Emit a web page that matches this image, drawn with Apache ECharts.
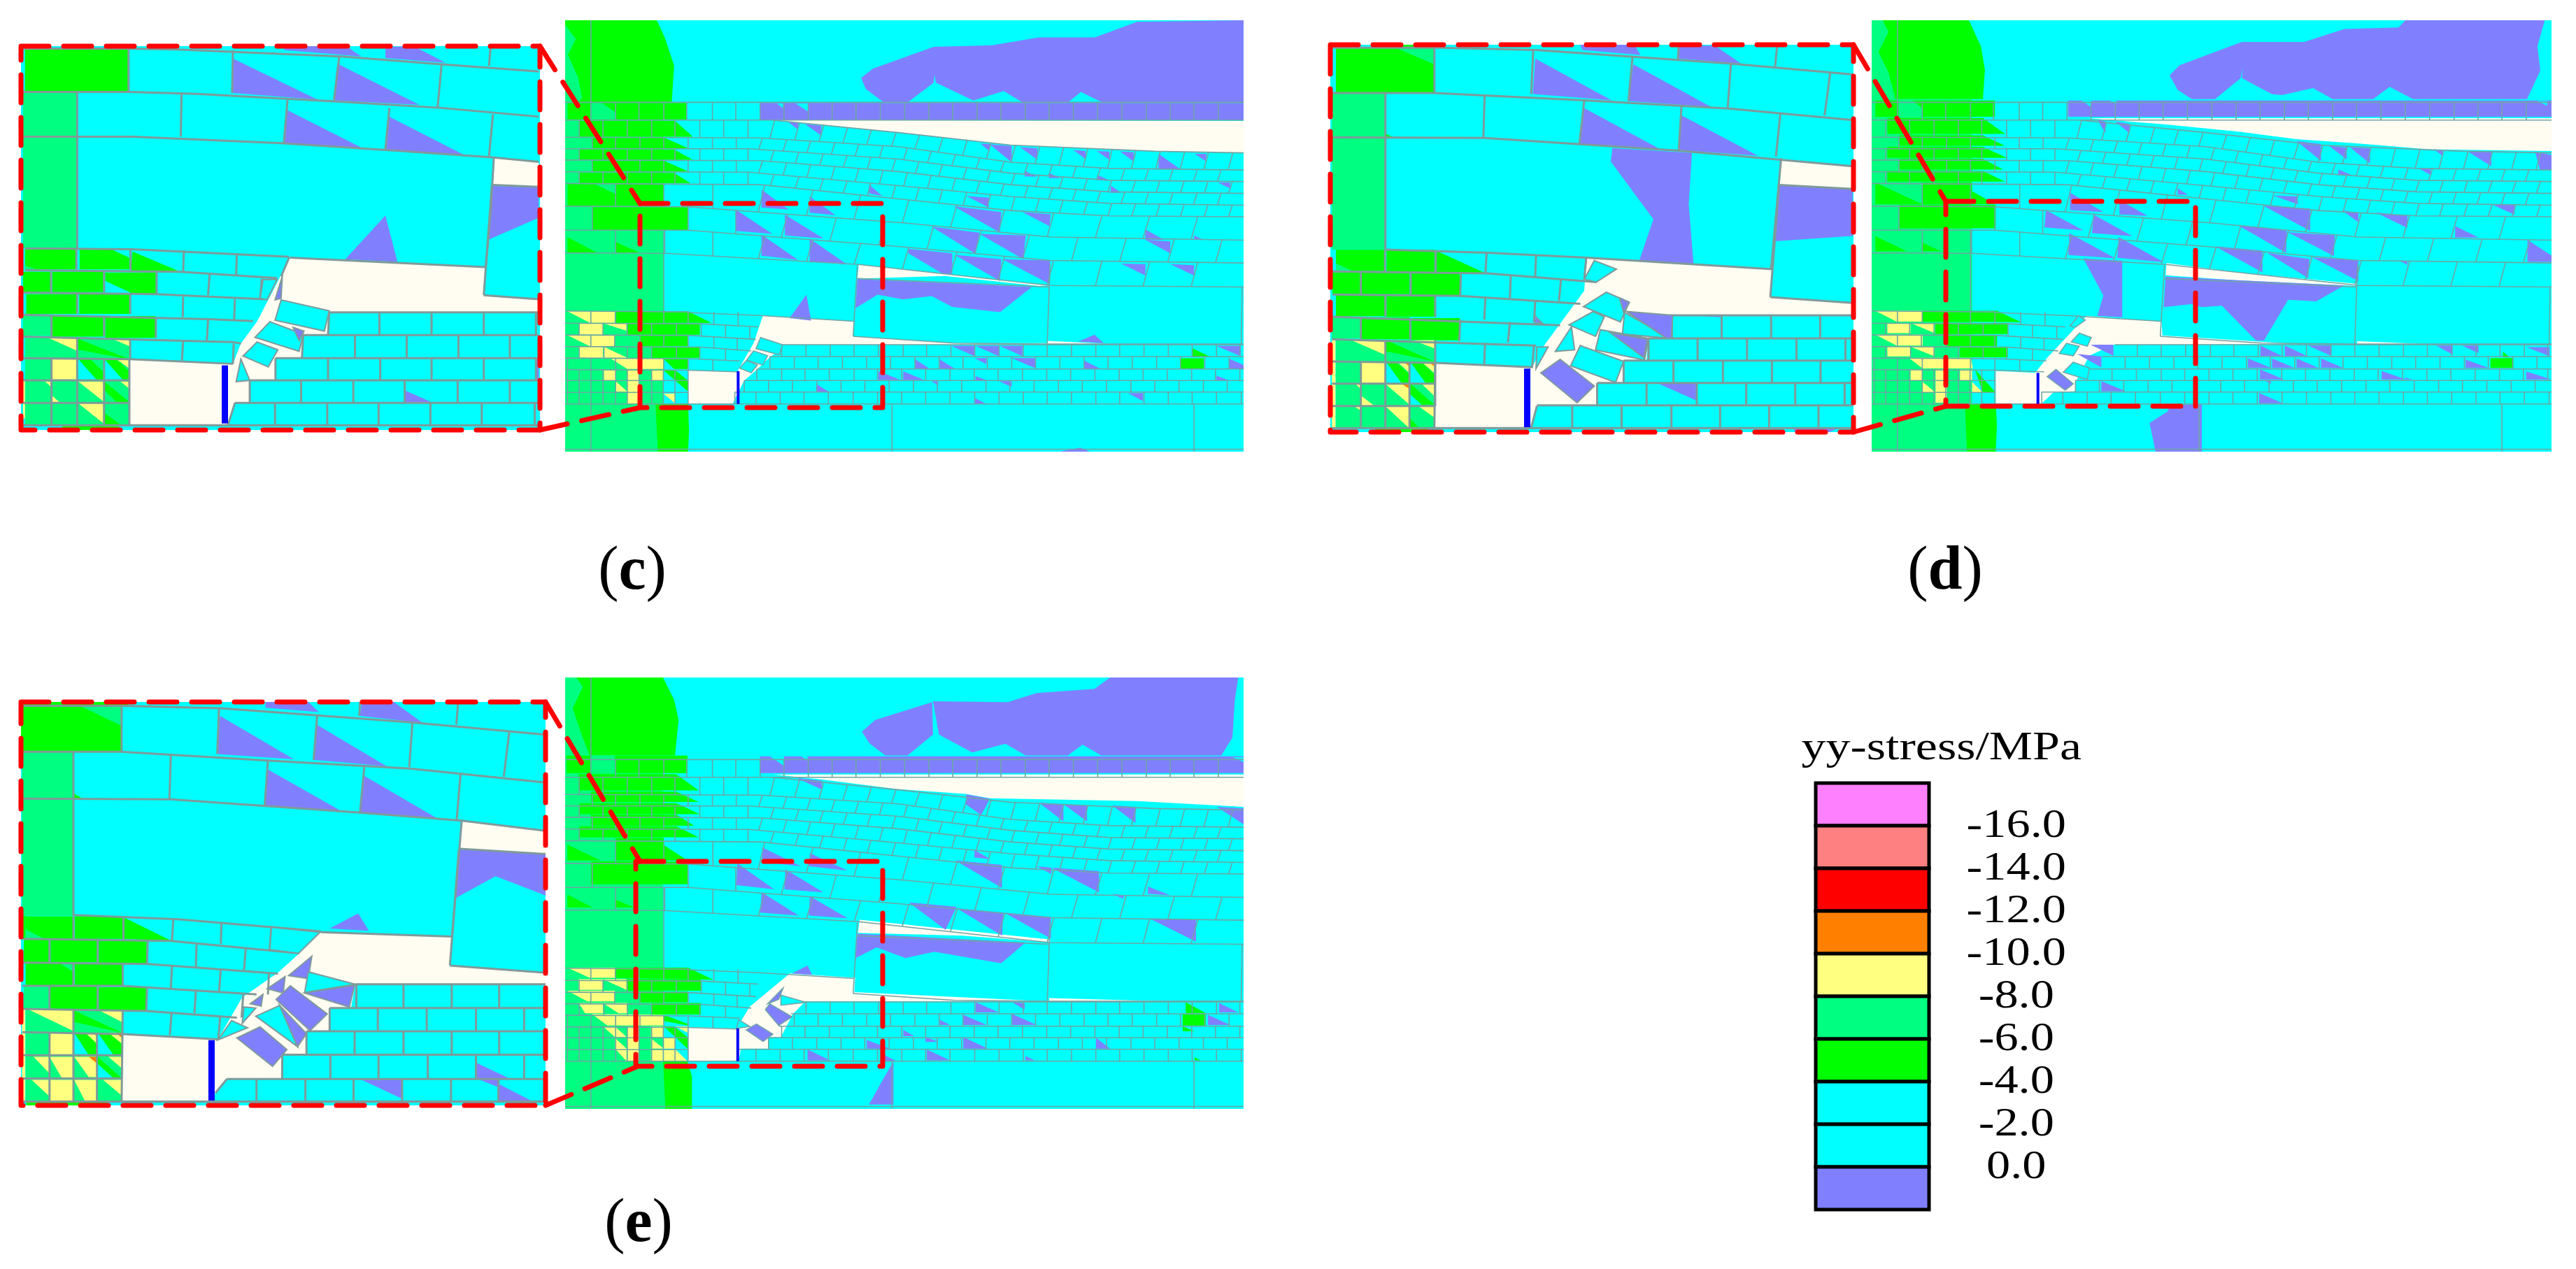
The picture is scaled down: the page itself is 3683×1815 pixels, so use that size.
<!DOCTYPE html>
<html>
<head>
<meta charset="utf-8">
<title>yy-stress</title>
<script src="https://cdn.jsdelivr.net/npm/echarts@6/dist/echarts.min.js"></script>
<style>
html, body { margin: 0; padding: 0; background: #fff; }
#chart { width: 3683px; height: 1815px; }
</style>
</head>
<body>
<div id="chart"></div>
<script>
// stress bands, top to bottom
var legendColors = ['#ff80ff', '#ff8080', '#ff0000', '#ff8000', '#ffff80', '#00ff80', '#00ff00', '#00ffff', '#00ffff', '#8080ff'];
var legendTicks = ['-16.0', '-14.0', '-12.0', '-10.0', '-8.0', '-6.0', '-4.0', '-2.0', '0.0'];
var legendTitle = 'yy-stress/MPa';
var panelLetters = ['c', 'd', 'e'];
var fieldColors = { P: '#8080ff', C: '#fffcf2', G: '#00ff00', S: '#00ff80', Y: '#ffff80', A: '#00ffff', O: '#ff8000' };

// ---- masonry of the full model, shared by the three right hand views
var courseL2 = [87,440,505,442,800,470,1040,520,1250,540,1538,545];
var courseL3 = [87,477,480,477,800,510,1040,555,1250,578,1538,582];
var courseL4 = [87,513,505,515,800,550,1040,592,1250,615,1538,620];
var courseL5 = [87,551,480,552,800,595,1040,630,1250,652,1538,658];
var courseL6 = [87,588,505,592,815,640,1040,675,1250,692,1538,695];
var courseL7 = [87,661,350,663,815,715,1125,760,1538,770];
var courseL8 = [87,738,350,738,800,790,1125,835,1538,843];
var courseL9 = [87,811,300,812,715,848,1125,915,1538,920];
var courseTop = [87,385,530,385,800,425,1040,465,1350,485,1538,490];
var fullLines = [
  [87,328,1538,328], [87,385,1538,385], [530,385,800,425,1040,465,1350,485,1538,490],
  courseL2, courseL3, courseL4, courseL5, courseL6, courseL7, courseL8, courseL9,
  [712,893,1122,920], [712,850,703,1078], [1124,846,1118,1103], [1535,920,1533,1103],
  [298,740,298,1000], [352,1002,510,1012,705,1030], [703,1078,920,1100,1118,1103], [1118,1103,1538,1103],
  [87,997,352,1000], [87,1036,378,1038,500,1048], [87,1074,350,1075,495,1088], [87,1111,378,1113,485,1125],
  [87,1148,352,1150,460,1157], [87,1185,350,1187,455,1192], [87,1220,350,1220], [87,1258,350,1258],
  [87,1295,1538,1295], [87,1440,1538,1440], [142,65,142,328], [142,1295,142,1448], [786,1295,786,1448], [1432,1295,1432,1448]
];
var setA = [117,168,220,272,322,375,426,478,530,583,635,686,737,790,840,890,942,993,1045,1097,1148,1200,1252,1303,1355,1407,1458,1510];
var setB = [145,195,247,298,350,402,453,505,557,608,660,711,763,815,866,918,970,1022,1073,1125,1176,1228,1280,1331,1383,1435,1486];
// top course, bottom course, joints, lean of the joints
var fullBands = [
  [[87,328,1538,328], [87,385,1538,385], [142,195,245,298,347,402,452,504,555,607,658,709,761,813,865,916,968,1019,1071,1122,1174,1226,1278,1330,1381,1432,1484], 0],
  [courseTop, courseL2, setA, 5],
  [courseL2, courseL3, setB, 4],
  [courseL3, courseL4, setA, 4],
  [courseL4, courseL5, setB, 4],
  [courseL5, courseL6, setA, 4],
  [courseL6, courseL7, [195,298,403,507,610,712,815,918,1020,1125,1228,1330,1433], 7],
  [courseL7, courseL8, [145,350,452,556,660,765,868,970,1073,1177,1280,1383,1485], 7],
  [courseL8, courseL9, [195,300,403,507,610,712,815,918,1020,1125,1228,1330,1433], 7],
  [[87,997,352,1000], [87,1036,378,1038,500,1048], [142,195,245,298,350,405,457], 2],
  [[87,1036,378,1038,500,1048], [87,1074,350,1075,495,1088], [117,168,220,272,325,378,430,482], 2],
  [[87,1074,350,1075,495,1088], [87,1111,378,1113,485,1125], [142,193,247,298,350,405,455], 2],
  [[87,1111,378,1113,485,1125], [87,1148,352,1150,460,1157], [117,170,220,272,325,375,430], 2],
  [[87,1148,352,1150,460,1157], [87,1185,350,1187,455,1192], [92,142,195,247,298,350,403], 0],
  [[87,1185,350,1185], [87,1220,350,1220], [92,117,142,168,195,220,245,272,297,322,350], 0],
  [[87,1220,350,1220], [87,1258,350,1258], [92,117,142,168,195,220,245,272,297,322,350], 0],
  [[87,1258,350,1258], [87,1295,350,1295], [92,117,142,168,195,220,245,272,297,322,350], 0]
];
// lower right courses: top, bottom, joints
var rightRows = [
  [1105,1143,[550,602,654,705,757,810,860,912,963,1015,1067,1118,1170,1222,1273,1325,1377,1428,1480,1530]],
  [1143,1183,[525,577,628,680,732,783,835,887,938,990,1042,1093,1145,1197,1248,1300,1352,1403,1455,1507]],
  [1183,1220,[497,550,600,652,705,755,807,858,910,962,1013,1065,1117,1168,1220,1272,1323,1375,1427,1478,1530]],
  [1220,1257,[470,522,573,625,677,728,780,832,883,935,987,1038,1090,1142,1193,1245,1297,1348,1400,1452,1503]],
  [1257,1295,[450,495,547,598,650,703,755,807,858,910,963,1015,1067,1118,1170,1222,1273,1325,1377,1428,1480,1533]]
];
var cRowStart = [550, 525, 497, 470, 450];
var dRowStart = [606, 578, 551, 521, 449];
var eRowStart = [597, 570, 544, 518, 454];

// ---- panel c, full model, read in the shared frame
var cFullShapes = [
  ['G',87,65,283,65,300,120,320,210,315,328,87,328],
  ['S',87,80,110,125,93,175,115,250,123,315,115,328,87,328],
  ['S',87,328,298,328,298,1295,87,1295], ['S',87,1295,280,1295,285,1448,87,1448],
  ['G',280,1295,350,1295,352,1380,350,1448,285,1448],
  ['G',92,330,347,330,347,383,92,383], ['S',142,330,165,330,195,360,195,383,142,383],
  ['G',117,387,322,387,360,438,117,438], ['G',145,442,300,442,350,475,145,475], ['G',117,479,320,479,360,512,117,512],
  ['G',145,516,300,516,350,550,145,550], ['G',117,554,320,554,355,587,117,587],
  ['G',92,590,298,590,298,660,92,660], ['S',150,590,195,590,195,622], ['G',145,664,350,664,350,737,145,737],
  ['G',92,760,155,810,92,810], ['G',195,775,245,810,195,810],
  ['G',195,998,350,998,400,1035,195,1035], ['Y',92,998,193,998,193,1035,140,1035], ['Y',117,1037,168,1037,168,1073,117,1073],
  ['Y',170,1037,218,1037,218,1060], ['G',220,1037,375,1037,375,1073,220,1073], ['Y',92,1075,193,1075,193,1110,140,1110],
  ['G',247,1075,350,1075,350,1110,247,1110], ['Y',117,1112,168,1112,168,1147,117,1147], ['Y',170,1112,220,1147,170,1147],
  ['G',272,1112,375,1112,375,1147,272,1147], ['Y',185,1150,297,1150,297,1183,220,1183], ['G',297,1150,350,1150,350,1183,320,1183],
  ['Y',170,1187,195,1187,195,1220,170,1220], ['Y',220,1187,245,1187,245,1295,220,1295], ['Y',272,1187,297,1187,297,1220,272,1220],
  ['Y',195,1222,220,1255,195,1255], ['Y',297,1262,322,1262,322,1293], ['G',297,1187,322,1187,350,1220,350,1255], ['A',322,1187,350,1187,350,1205],
  ['P',720,250,745,220,875,150,1000,145,1100,120,1220,120,1310,70,1538,65,1538,328,1235,328,1190,295,1163,328,1065,328,1025,292,960,322,880,265,877,240,875,265,820,328,768,328,730,285],
  ['P',504,330,1538,330,1538,385,504,385], ['A',540,332,553,332,553,347], ['A',580,332,606,332,606,357],
  ['C',530,385,1538,388,1538,490,1350,485,1040,465,800,425],
  ['C',715,848,1125,915,1100,917,900,885,712,893],
  ['C',510,1012,705,1030,703,1078,920,1100,1118,1100,1118,1093,1283,1105,550,1105,548,1120,525,1145,497,1185,470,1220,445,1295,350,1295,350,1187,455,1192,490,1100],
  ['P',565,392,585,392,585,415], ['P',600,398,635,403,635,435], ['P',975,460,995,462,995,485], ['P',995,463,1042,468,1042,520],
  ['P',1060,472,1097,475,1097,512], ['P',1174,481,1200,484,1200,510], ['P',1224,484,1251,486,1251,512], ['P',1274,486,1303,488,1303,518],
  ['P',1356,493,1356,543,1403,543], ['P',1433,493,1458,493,1458,517], ['P',1070,548,1097,566,1070,566], ['P',1122,555,1147,571,1122,571],
  ['P',1226,562,1251,578,1226,578], ['P',1254,595,1276,618,1254,618], ['P',1483,585,1509,585,1509,604], ['P',945,628,993,634,993,665],
  ['P',737,592,765,628,737,620], ['P',507,608,507,665,565,672], ['P',610,630,610,682,665,690],
  ['P',918,661,1020,680,1017,746], ['P',1065,680,1125,687,1123,725], ['P',1328,736,1368,769,1328,769], ['P',1432,755,1453,769,1432,769],
  ['P',452,672,452,740,530,750], ['P',557,688,557,755,640,765], ['P',871,727,973,746,965,814], ['P',973,750,1072,755,1067,831], ['P',1328,769,1381,774,1381,812],
  ['P',507,752,507,820,585,833], ['P',610,765,610,838,690,848], ['P',821,798,915,812,915,878,895,878,821,812], ['P',920,817,1020,831,1017,901],
  ['P',1022,831,1124,835,1124,911], ['P',1276,845,1328,847,1328,883], ['P',1381,847,1432,850,1432,883],
  ['P',712,895,1085,920,1017,1001,915,984,871,949,810,960,755,945,708,988], ['P',567,1020,603,945,613,1028], ['P',1184,1095,1219,1073,1239,1100],
  ['P',913,1109,963,1109,963,1142], ['P',965,1109,1015,1109,1015,1142], ['P',1017,1109,1065,1109,1065,1142], ['P',1480,1109,1532,1109,1532,1142],
  ['G',1429,1117,1468,1145,1429,1145], ['G',1403,1149,1453,1149,1453,1182,1403,1182],
  ['P',836,1152,866,1182,836,1182], ['P',888,1152,920,1182,888,1182], ['P',963,1148,988,1148,988,1168], ['P',1042,1148,1092,1148,1092,1180],
  ['P',1197,1156,1231,1182,1197,1182], ['P',1507,1150,1538,1170,1538,1182,1507,1182],
  ['P',757,1190,805,1218,757,1218], ['P',810,1190,855,1218,810,1218], ['P',965,1206,990,1220,965,1220], ['P',1480,1204,1507,1220,1480,1220],
  ['P',625,1232,650,1255,625,1255], ['P',871,1222,885,1222,885,1235], ['P',1015,1222,1042,1222,1042,1240],
  ['P',963,1276,988,1295,963,1295], ['P',1291,1260,1323,1260,1323,1286], ['P',1144,1448,1189,1435,1209,1448]
];
var cFullPieces = [
  ['A',505,1082,552,1105,545,1137,495,1118], ['A',490,1125,520,1140,510,1170,475,1155], ['A',475,1155,498,1170,485,1195,460,1180]
];
var cFullBlue = [457,1190,457,1295];

// ---- panel d, full model, read in its own frame
var dFullShapes = [
  ['G',63,70,305,70,335,160,345,240,340,342,63,342], ['S',90,70,105,110,80,180,105,250,122,342,63,342,63,70],
  ['S',63,342,313,342,313,1395,63,1395], ['S',63,1395,295,1395,300,1559,63,1559], ['G',295,1395,372,1395,375,1470,372,1559,300,1559],
  ['G',72,347,370,347,370,403,72,403], ['S',130,347,165,347,190,375,190,403,130,403],
  ['G',102,407,340,407,395,462,102,462], ['G',132,467,340,467,395,503,132,503], ['G',102,507,340,507,400,545,102,545],
  ['G',132,548,340,548,390,585,132,585], ['G',102,590,340,590,395,627,102,627],
  ['G',72,630,313,630,313,705,72,705], ['S',72,630,190,630,190,705], ['G',313,660,372,705,313,705], ['G',132,708,372,708,372,788,132,788],
  ['G',72,815,150,867,72,867], ['G',190,838,235,867,190,867],
  ['Y',72,1073,190,1073,190,1110,125,1110], ['G',190,1073,375,1073,435,1112,190,1110],
  ['Y',102,1115,160,1115,160,1150,102,1150], ['Y',160,1115,220,1115,220,1150], ['G',222,1115,402,1115,402,1153,222,1153],
  ['Y',72,1155,190,1155,190,1193,125,1193], ['G',250,1157,375,1157,375,1195,250,1195],
  ['Y',102,1197,160,1197,160,1230,102,1230], ['Y',160,1197,220,1197,220,1230], ['G',283,1197,402,1197,402,1233,283,1233],
  ['Y',155,1235,310,1235,315,1272,190,1272], ['Y',160,1275,190,1275,190,1315,160,1315], ['Y',222,1275,250,1275,250,1390,222,1390],
  ['Y',283,1275,313,1275,313,1315,283,1315], ['Y',190,1318,222,1355,190,1355], ['Y',313,1318,340,1355,313,1355],
  ['G',320,1275,372,1355,340,1355], ['A',340,1275,372,1275,372,1300],
  ['P',805,260,830,225,985,145,1140,145,1240,100,1375,95,1392,70,1739,70,1721,160,1728,244,1695,342,1411,342,1353,300,1312,342,1211,342,1162,304,1085,328,1060,325,985,270,987,235,982,270,918,342,860,342,825,310],
  ['P',552,347,1756,347,1756,403,552,403], ['A',585,347,610,347,610,370], ['A',655,347,672,347,672,360], ['A',1720,349,1745,349,1745,365],
  ['C',600,408,1756,408,1756,521,1450,515,1270,495,1120,480,980,455,800,430],
  ['C',797,908,975,940,1272,980,1272,987,975,968,795,950],
  ['C',598,1090,785,1110,787,1158,1130,1188,665,1190,605,1228,572,1315,570,1350,515,1355,485,1395,372,1392,372,1280,470,1287,500,1235],
  ['C',1272,1178,1452,1188,1272,1188],
  ['P',625,412,645,420,645,460], ['P',670,420,705,428,705,460], ['P',1121,487,1182,497,1182,555], ['P',1202,503,1246,510,1246,550], ['P',1254,508,1304,512,1304,565],
  ['P',1463,515,1485,518,1485,538], ['P',1548,523,1606,523,1606,574], ['P',1715,523,1756,535,1756,584,1727,584], ['P',1423,579,1455,584,1455,604],
  ['P',1063,675,1124,678,1124,705], ['P',1608,706,1664,706,1664,741], ['P',825,650,850,672,825,672], ['P',1225,585,1260,605,1225,605],
  ['P',557,665,557,725,640,732], ['P',680,690,680,740,750,745], ['P',1039,711,1155,720,1155,797], ['P',1234,726,1275,735,1275,767], ['P',1318,733,1397,745,1397,787], ['P',1516,780,1574,820,1516,820],
  ['P',497,725,493,785,590,795], ['P',615,740,612,805,712,815], ['P',975,777,1097,797,1095,873], ['P',1100,802,1216,812,1214,884], ['P',1696,828,1756,882,1756,904,1696,904],
  ['P',555,805,553,880,670,892], ['P',678,818,675,890,790,905], ['P',918,850,1036,865,1036,940], ['P',1048,873,1153,894,1150,960], ['P',1161,889,1275,899,1275,970], ['P',1376,899,1397,901,1397,914],
  ['P',590,892,687,900,687,1095,625,1090,640,1020],
  ['P',795,955,1240,985,1170,1040,1100,1035,1040,1175,1020,1175,935,1055,885,1060,860,1050,790,1060],
  ['P',885,1397,885,1559,770,1559,755,1460,800,1420,805,1397],
  ['P',1031,1193,1085,1229,1031,1229], ['P',1092,1193,1147,1229,1092,1229], ['P',1150,1193,1208,1193,1208,1229], ['P',1469,1193,1510,1193,1510,1224], ['P',1533,1193,1574,1193,1574,1219], ['P',1693,1198,1751,1198,1751,1229],
  ['P',1000,1237,1058,1270,1000,1270], ['P',1060,1237,1116,1270,1060,1270], ['P',1121,1237,1176,1270,1121,1270], ['P',1182,1237,1237,1270,1182,1270], ['P',1542,1241,1600,1270,1542,1270],
  ['G',1604,1236,1661,1236,1661,1270,1604,1270], ['G',1635,1214,1652,1234,1635,1234],
  ['P',1030,1275,1090,1310,1030,1310], ['P',1333,1280,1393,1310,1333,1310], ['P',1693,1282,1756,1310,1693,1310], ['P',1391,1304,1411,1310,1391,1310],
  ['P',635,1315,695,1350,635,1350], ['P',1040,1312,1057,1312,1057,1325], ['P',1028,1356,1086,1392,1028,1392],
  ['P',608,1190,665,1190,665,1228], ['P',575,1222,635,1230,635,1268]
];
var dFullPieces = [
  ['P',522,1275,565,1325,545,1347,500,1300], ['A',565,1250,605,1270,600,1310,540,1285], ['A',580,1150,610,1165,600,1195,560,1180],
  ['A',548,1185,580,1195,565,1228,530,1220], ['A',578,1090,595,1105,570,1130,557,1125]
];
var dFullBlue = [477,1287,477,1395];

// ---- panel e, full model, read in its own frame
var eFullShapes = [
  ['G',55,93,275,93,300,170,310,240,302,362,55,362], ['S',80,93,95,125,72,200,92,290,110,362,55,362,55,93],
  ['S',55,362,275,362,275,1418,55,1418], ['S',55,1418,275,1418,280,1583,55,1583], ['G',275,1418,330,1418,340,1470,340,1583,280,1583],
  ['G',58,363,330,363,330,423,58,423], ['S',113,363,167,363,167,423,113,423],
  ['G',85,427,305,427,355,483,85,483], ['G',113,487,305,487,355,523,113,523], ['G',87,527,305,527,358,565,87,565],
  ['G',113,567,305,567,345,605,113,605], ['G',87,607,305,607,355,645,87,645],
  ['G',168,648,277,648,277,725,168,725], ['G',60,670,135,725,60,725], ['G',277,672,330,725,277,725], ['G',113,728,330,728,330,807,113,807],
  ['G',60,843,117,887,60,887], ['G',167,860,210,887,167,887],
  ['Y',60,1095,167,1095,167,1130,110,1130], ['G',167,1095,332,1095,388,1137,167,1130],
  ['Y',85,1135,140,1135,140,1172,85,1172], ['Y',140,1135,193,1135,193,1172], ['G',193,1135,360,1135,360,1175,193,1175],
  ['Y',60,1175,167,1175,167,1212,105,1212], ['G',222,1177,332,1177,332,1215,222,1215],
  ['Y',85,1217,140,1217,140,1253,100,1253], ['Y',140,1217,195,1217,195,1253,175,1253], ['G',250,1217,360,1217,360,1257,250,1257],
  ['Y',115,1255,275,1258,277,1295,150,1295], ['Y',140,1298,167,1298,193,1335,167,1335], ['Y',195,1298,220,1298,220,1418,195,1418],
  ['Y',248,1298,277,1298,277,1335,248,1335], ['Y',277,1338,303,1338,303,1375,277,1375], ['Y',248,1340,277,1375,248,1375], ['Y',248,1378,275,1378,275,1418,248,1418],
  ['Y',167,1338,193,1375,193,1418,167,1375], ['Y',277,1378,303,1378,330,1418,277,1418], ['Y',303,1298,330,1298,330,1320],
  ['G',277,1258,332,1290,332,1295,277,1280], ['G',277,1298,330,1375,330,1335,300,1298],
  ['P',722,280,752,240,880,178,882,290,825,362,775,362,740,322],
  ['P',882,175,1050,178,1115,147,1245,132,1280,93,1568,93,1560,175,1555,300,1530,362,1260,362,1218,325,1185,362,1090,362,1045,322,970,352,895,290],
  ['P',493,365,1580,365,1580,423,493,423], ['A',515,365,547,365,547,398], ['A',585,365,600,365,600,380], ['A',1555,368,1580,368,1580,385],
  ['C',522,428,1580,428,1580,540,1340,520,1010,510,955,495,800,478,630,445],
  ['C',717,930,1145,998,1145,1008,950,985,713,975],
  ['C',560,1115,707,1130,705,1180,1140,1212,595,1212,567,1255,540,1335,512,1335,512,1375,450,1375,445,1418,332,1418,332,1300,440,1305,470,1230],
  ['C',1143,1200,1415,1212,1143,1212],
  ['P',575,440,632,450,632,480], ['P',957,497,1010,512,990,568,955,530], ['P',1120,525,1175,530,1175,590], ['P',1175,530,1228,535,1228,590], ['P',1285,535,1337,540,1337,595], ['P',1520,540,1580,545,1580,600],
  ['P',975,688,1010,720,975,715],
  ['P',498,680,498,730,585,745], ['P',605,700,603,745,690,760],
  ['P',442,735,440,810,525,825], ['P',550,755,548,825,635,835], ['P',932,725,1037,740,1037,820], ['P',1148,750,1255,762,1255,835], ['P',1365,815,1365,840,1415,845], ['P',1115,745,1148,750,1148,772],
  ['P',497,835,493,905,580,915], ['P',605,848,603,915,690,925], ['P',828,870,935,885,910,965], ['P',935,890,1040,905,1037,985], ['P',1042,905,1147,920,1147,995], ['P',1368,925,1473,930,1473,1005], ['P',1285,840,1310,845,1310,858],
  ['P',712,978,1090,1008,1035,1080,885,1040,820,1062,755,1025,708,1062], ['P',565,1115,600,1088,610,1120], ['P',793,1420,793,1568,738,1568,770,1480],
  ['G',1443,1256,1495,1256,1495,1295,1443,1295], ['G',1450,1215,1495,1252,1450,1252], ['G',1443,1298,1470,1315,1443,1315], ['G',1470,1405,1483,1415,1470,1415],
  ['P',978,1215,1030,1250,978,1250], ['P',1060,1215,1088,1218,1088,1240], ['P',1525,1217,1568,1250,1525,1250],
  ['P',897,1275,920,1293,897,1293], ['P',950,1258,1003,1293,950,1293], ['P',1060,1255,1115,1293,1060,1293], ['P',1500,1258,1550,1293,1500,1293],
  ['P',815,1310,840,1332,815,1332], ['P',733,1345,785,1375,733,1375], ['P',865,1335,895,1352,865,1352], ['P',950,1335,1005,1375,950,1375], ['P',1248,1337,1280,1375,1248,1375],
  ['P',600,1378,650,1415,600,1415], ['P',868,1378,920,1415,868,1415], ['P',1090,1400,1110,1415,1090,1415], ['P',770,1395,800,1418,770,1418]
];
var eFullPieces = [
  ['P',545,1165,535,1205,510,1220], ['A',540,1190,597,1215,540,1225], ['P',515,1220,565,1265,535,1295,505,1240],
  ['P',485,1290,522,1325,500,1350,462,1310], ['A',445,1275,470,1298,440,1305]
];
var eFullBlue = [443,1305,443,1418];

// ---- panel c, close up
var cDetailShapes = [
  ['G',62,157,320,157,320,292,62,292], ['S',57,295,192,295,192,795,57,795],
  ['P',582,188,790,318,578,297], ['P',840,203,1045,335,830,320], ['P',705,147,862,147,900,180,710,160], ['P',960,150,1030,147,1110,200,960,185],
  ['P',712,350,905,475,705,458], ['P',968,372,1160,498,960,478], ['P',960,690,990,838,860,830],
  ['C',1232,505,1342,520,1342,598,1228,592], ['P',1225,595,1342,600,1342,697,1215,768],
  ['C',722,825,1208,855,1205,945,1342,958,1342,1000,820,1000,817,1072,755,1075,752,1147,686,1147,686,1216,622,1218,620,1288,585,1290,568,1360,322,1360,322,1152,580,1165,600,1100,640,1030,700,880],
  ['G',62,798,190,798,190,862,62,862], ['S',62,850,90,862,62,862], ['G',198,798,322,798,322,862,198,862], ['A',280,800,322,800,322,825], ['G',330,805,445,868,325,868],
  ['G',57,870,125,870,125,935,57,935], ['G',130,870,257,870,257,935,130,935], ['G',262,873,388,873,388,940,330,940,262,900], ['A',262,900,330,940,262,935],
  ['G',65,942,190,942,190,1005,65,1005], ['G',197,942,322,942,322,1005,197,1005],
  ['S',57,1010,128,1010,128,1075,57,1075], ['G',130,1012,257,1012,257,1078,130,1078], ['G',262,1012,387,1012,387,1082,262,1082],
  ['S',62,1082,322,1082,322,1360,62,1360], ['Y',120,1082,190,1082,190,1122], ['G',195,1085,322,1150,195,1120], ['Y',280,1085,322,1085,322,1108],
  ['Y',130,1150,190,1150,190,1215,130,1215], ['A',195,1150,257,1215,195,1215], ['G',195,1150,225,1150,257,1190,257,1215,240,1215],
  ['A',260,1150,322,1215,260,1215], ['G',260,1150,290,1150,322,1190,322,1215,305,1215], ['Y',290,1150,322,1150,322,1180],
  ['Y',112,1222,128,1222,128,1240], ['Y',195,1222,257,1222,257,1285], ['G',260,1222,322,1288,290,1288,260,1250], ['Y',300,1222,322,1222,322,1245],
  ['Y',195,1292,257,1292,257,1355], ['G',258,1320,300,1360,258,1360], ['Y',130,1268,148,1288,130,1288],
  ['Y',57,1220,62,1220,62,1340,57,1340], ['G',155,1362,295,1362,300,1377,155,1377],
  ['P',1008,1250,1075,1288,1008,1288], ['P',1335,1147,1342,1147,1342,1218,1335,1218]
];
var cDetailPieces = [
  ['A',700,960,820,995,808,1060,685,1025], ['A',672,1030,755,1070,745,1125,635,1080], ['A',640,1095,692,1120,668,1175,605,1140],
  ['A',600,1150,622,1218,588,1222], ['A',655,895,690,895,665,960,648,955], ['P',685,960,703,885,700,955], ['P',730,1048,757,1060,745,1090]
];
var cDetailLines = [
  [57,155,320,155,450,158,850,180,1100,205,1342,228], [57,294,320,294,490,300,850,325,1100,345,1342,373], [57,437,330,437,700,458,1000,483,1225,503,1342,518],
  [62,795,330,798,720,822], [722,825,1208,855], [1230,505,1222,680,1210,855], [1228,592,1342,598], [1225,595,1205,945], [1205,945,1342,958],
  [62,865,450,870,690,890], [57,937,390,942,660,958], [57,1008,520,1022,630,1028], [57,1078,580,1095,600,1100], [57,1147,325,1150,580,1165],
  [57,1218,322,1218], [57,1290,322,1290], [57,1362,1342,1362],
  [820,1000,1342,1000], [755,1073,1342,1073], [686,1147,1342,1147], [622,1218,1342,1218], [585,1290,1342,1290],
  [320,157,320,292], [580,160,578,297], [845,180,832,320], [1100,205,1090,343], [1222,150,1218,210],
  [192,295,192,795], [452,300,450,437], [716,320,707,458], [970,345,960,478], [1228,365,1218,500],
  [190,798,190,862], [325,798,325,865], [458,802,456,868], [590,812,588,880], [720,825,700,885],
  [127,870,127,935], [259,870,259,937], [390,873,390,942], [522,880,518,945], [652,892,648,955],
  [192,942,192,1005], [324,942,324,1005], [456,950,455,1015], [585,958,583,1025],
  [128,1010,128,1078], [259,1010,259,1078], [388,1018,388,1082], [518,1025,515,1090],
  [192,1080,192,1147], [324,1085,324,1150], [456,1092,453,1155], [582,1100,580,1165],
  [128,1150,128,1362], [192,1150,192,1362], [259,1150,259,1362], [322,1150,322,1362],
  [820,1000,817,1072], [755,1075,752,1147], [686,1147,686,1218], [622,1218,622,1288], [585,1290,568,1360]
];
var cDetailColumns = [
  [1003,1072,[945,1075,1205,1335]], [1075,1147,[884,1013,1142,1270]], [1147,1218,[817,947,1075,1205,1335]],
  [1218,1290,[750,880,1008,1140,1270]], [1290,1362,[685,815,943,1072,1200,1332]]
];
var cDetailBlue = [560,1170,560,1356];

// ---- panel d, close up
var dDetailShapes = [
  ['G',122,157,367,157,367,312,122,312], ['S',270,157,367,157,367,215], ['G',240,147,390,147,390,157,240,157],
  ['S',112,315,245,315,245,857,112,857], ['G',245,455,265,468,245,468],
  ['P',618,195,808,340,612,318], ['P',862,215,1055,362,850,342], ['P',738,365,930,510,728,490], ['P',982,392,1172,532,975,512],
  ['P',730,147,865,147,880,183,735,165], ['P',975,150,1065,150,1130,212,975,195],
  ['P',810,505,1008,522,1000,700,1012,908,877,895,912,752,806,552],
  ['C',1230,543,1408,568,1408,645,1227,632], ['P',1225,635,1408,648,1408,810,1215,828],
  ['C',745,885,1208,925,1203,1022,1408,1042,1408,1085,960,1085,955,1165,900,1165,895,1240,838,1240,838,1320,772,1322,772,1395,622,1400,605,1475,367,1475,367,1250,610,1265,640,1190,740,1000],
  ['G',122,858,244,858,244,932,122,932], ['S',122,905,165,932,122,932], ['G',248,858,367,858,367,935,248,935], ['G',373,862,495,940,373,940],
  ['G',113,937,183,937,183,1012,113,1012], ['G',186,937,305,937,305,1012,186,1012], ['G',310,940,430,940,430,1018,310,1018],
  ['G',122,1015,244,1015,244,1088,122,1088], ['G',248,1017,367,1017,367,1090,248,1090],
  ['S',112,1092,183,1092,183,1165,112,1165], ['G',186,1092,305,1092,305,1168,186,1168], ['G',310,1095,430,1095,430,1172,310,1172],
  ['S',122,1170,367,1170,367,1475,122,1475], ['Y',158,1170,244,1170,244,1222], ['G',247,1172,367,1245,247,1210], ['Y',315,1172,367,1172,367,1200],
  ['Y',112,1170,121,1170,121,1475,112,1475],
  ['Y',186,1247,244,1247,244,1320,186,1320], ['A',247,1247,305,1320,247,1320], ['G',247,1247,272,1247,305,1290,305,1320,285,1320], ['Y',275,1247,305,1247,305,1285], ['O',290,1247,305,1247,305,1262],
  ['A',307,1247,367,1320,307,1320], ['G',307,1247,335,1247,367,1290,367,1320,345,1320], ['Y',335,1247,367,1247,367,1285], ['O',352,1247,367,1247,367,1262],
  ['Y',170,1322,183,1322,183,1340], ['Y',186,1365,218,1400,186,1400], ['Y',247,1325,305,1325,305,1395], ['O',288,1325,305,1325,305,1340],
  ['G',307,1322,367,1395,335,1395,307,1360], ['A',307,1360,335,1395,307,1395], ['Y',335,1322,367,1322,367,1365],
  ['Y',247,1403,303,1403,303,1475], ['Y',330,1403,367,1403,367,1440], ['G',305,1440,328,1475,305,1475], ['Y',170,1403,183,1403,183,1415],
  ['G',220,1477,350,1477,350,1490,220,1490], ['P',1260,1477,1370,1477,1350,1490,1265,1490],
  ['P',925,1322,1018,1380,1018,1322], ['P',1000,1085,1080,1085,1080,1092]
];
var dDetailPieces = [
  ['A',765,895,820,925,770,970,740,960], ['A',795,1005,852,1040,830,1108,738,1055], ['A',762,1072,790,1090,768,1158,702,1118],
  ['A',708,1125,716,1205,668,1210], ['A',840,1075,955,1165,835,1150], ['P',845,1072,960,1085,957,1165,945,1165],
  ['A',780,1135,900,1165,890,1240,768,1205], ['P',805,1145,898,1168,888,1232], ['A',730,1190,838,1245,818,1318,706,1260],
  ['A',622,1195,650,1195,620,1270], ['P',680,1238,765,1330,722,1388,632,1285], ['P',615,1085,635,1112,617,1110], ['P',828,1025,852,1040,838,1075]
];
var dDetailLines = [
  [112,157,367,157,620,165,1100,212,1408,250], [112,314,367,314,740,340,1100,368,1408,408], [112,468,490,470,975,514,1408,568],
  [245,857,500,868,745,885], [745,885,1208,925], [1230,540,1205,925], [1225,633,1203,1022], [1225,633,1408,647], [1203,1022,1408,1042],
  [112,933,500,940,770,970], [113,1013,432,1018,730,1045], [112,1090,680,1120], [112,1168,620,1190], [112,1245,370,1250,612,1265],
  [112,1322,367,1322], [112,1400,367,1400], [112,1476,1408,1476],
  [955,1085,1408,1085], [900,1165,1408,1165], [838,1242,1408,1242], [772,1320,1408,1320], [622,1397,1408,1397], [622,1400,608,1475],
  [367,160,367,312], [613,165,608,318], [860,190,850,342], [1105,212,1097,365], [1352,245,1338,392], [1220,150,1215,222], [975,150,973,195],
  [245,315,245,857], [492,320,489,470], [740,340,728,490], [982,362,975,512], [1228,385,1217,535],
  [244,858,244,933], [370,862,370,937], [497,868,494,940], [620,878,618,950], [745,885,740,960],
  [184,937,184,1012], [308,940,308,1016], [433,943,431,1018], [557,950,555,1025], [682,962,677,1035],
  [245,1015,245,1090], [369,1018,369,1092], [494,1025,491,1100], [618,1035,615,1108],
  [184,1092,184,1168], [307,1095,307,1170], [431,1100,429,1175], [555,1108,550,1180],
  [245,1170,245,1245], [369,1172,369,1400], [493,1180,491,1255], [615,1190,610,1265],
  [184,1247,184,1476], [245,1247,245,1476], [305,1247,305,1476], [369,1250,367,1476]
];
var dDetailColumns = [
  [1085,1165,[958,1082,1205,1327]], [1165,1242,[900,1022,1145,1268,1390]], [1242,1320,[838,962,1085,1207,1328]],
  [1320,1397,[772,895,1020,1143,1265,1388]], [1397,1476,[710,833,957,1078,1200,1323]]
];
var dDetailBlue = [598,1270,598,1473];

// ---- panel e, close up
var eDetailShapes = [
  ['G',60,130,360,130,360,143,60,143], ['G',72,143,342,143,342,300,72,300], ['S',225,143,342,143,342,212], ['G',60,143,72,143,72,300,60,300],
  ['S',63,303,207,303,207,868,63,868], ['G',207,445,232,463,207,463],
  ['P',618,178,825,328,610,310], ['P',888,208,1085,352,880,330], ['P',750,362,955,505,743,488], ['P',1018,382,1228,533,1010,512],
  ['P',745,130,865,130,895,165,745,150], ['P',1015,130,1105,130,1185,202,1010,178],
  ['C',1295,542,1530,572,1530,653,1290,637], ['P',1287,640,1530,655,1530,798,1390,732,1277,808], ['P',1005,860,1035,920,925,912],
  ['C',900,925,1268,940,1262,1040,1530,1065,1530,1105,997,1105,985,1185,925,1187,922,1265,860,1265,858,1348,792,1348,792,1430,637,1432,605,1480,590,1510,342,1510,342,1277,612,1295,680,1150,780,1065,840,998],
  ['G',60,868,73,868,73,948,60,948], ['G',73,870,205,870,205,948,73,948], ['S',73,915,125,948,73,948], ['G',211,870,345,870,345,948,211,948], ['G',350,875,482,955,350,948],
  ['G',68,950,138,950,138,1028,68,1028], ['G',143,950,273,950,273,1028,143,1028], ['G',278,955,412,955,412,1033,278,1033],
  ['G',73,1030,205,1030,205,1108,73,1108], ['S',165,1030,205,1030,205,1060], ['G',211,1033,345,1033,345,1110,211,1110],
  ['S',68,1112,138,1112,138,1190,68,1190], ['G',142,1112,273,1112,273,1190,142,1190], ['G',278,1115,412,1115,412,1195,278,1195],
  ['S',73,1192,343,1192,343,1510,73,1510], ['Y',82,1192,205,1192,205,1265], ['G',209,1195,343,1272,209,1235], ['Y',280,1195,343,1195,343,1235],
  ['Y',63,1192,72,1192,72,1510,63,1510],
  ['Y',140,1272,205,1272,205,1350,140,1350], ['A',209,1272,273,1350,209,1350], ['G',209,1272,240,1272,273,1310,273,1350,250,1350], ['Y',240,1272,273,1272,273,1310], ['O',262,1272,273,1272,273,1285],
  ['A',275,1272,343,1350,275,1350], ['G',275,1272,305,1272,343,1310,343,1350,320,1350], ['Y',305,1272,343,1272,343,1310], ['O',325,1272,343,1272,343,1290],
  ['Y',95,1355,138,1355,138,1410], ['Y',140,1355,205,1355,205,1430,175,1430], ['Y',209,1355,273,1355,273,1425,250,1425], ['O',250,1355,273,1355,273,1378],
  ['G',275,1355,343,1430,320,1430,275,1380], ['A',275,1380,320,1430,275,1430], ['Y',305,1355,343,1355,343,1395],
  ['Y',90,1435,138,1435,138,1490], ['Y',140,1435,207,1435,207,1510,140,1510], ['Y',209,1435,271,1435,271,1510,240,1510], ['Y',290,1435,343,1435,343,1490],
  ['G',75,1512,300,1512,300,1523,75,1523],
  ['P',1335,1375,1432,1432,1335,1432], ['P',1400,1450,1495,1510,1400,1510], ['P',1015,1435,1128,1500,1128,1435], ['P',1340,1432,1398,1432,1398,1460]
];
var eDetailPieces = [
  ['P',875,1008,865,1085,810,1075], ['A',865,1062,997,1105,855,1133], ['P',855,1135,995,1108,980,1183], ['P',800,1078,795,1135,750,1120],
  ['P',738,1140,733,1180,703,1172], ['P',815,1110,918,1207,870,1265,775,1157], ['A',785,1178,835,1320,718,1215], ['P',785,1178,860,1275,835,1320],
  ['A',650,1230,695,1255,612,1297], ['A',685,1183,718,1187,680,1240], ['P',730,1252,805,1330,765,1388,665,1290],
  ['A',762,908,898,925,838,998,757,985]
];
var eDetailLines = [
  [63,143,342,143,620,152,1150,200,1530,243], [63,302,342,302,750,332,1150,360,1530,408], [63,464,480,466,1010,512,1295,540,1530,575],
  [207,866,500,880,900,922], [900,925,1268,940], [1295,542,1268,940], [1287,640,1262,1040], [1290,637,1530,655], [1262,1040,1530,1065],
  [63,948,480,955,840,998], [63,1030,415,1035,780,1068], [63,1110,345,1110,720,1140], [63,1190,412,1197,665,1220], [63,1270,345,1277,612,1295],
  [63,1350,343,1350], [63,1430,343,1430], [63,1510,1530,1510],
  [997,1105,1530,1105], [925,1187,1530,1187], [860,1267,1530,1267], [792,1348,1530,1348], [637,1432,1530,1432], [637,1432,605,1480],
  [342,143,342,300], [615,152,610,310], [890,178,880,330], [1157,200,1148,355], [1428,235,1413,388], [1285,130,1280,208], [1010,130,1008,178],
  [207,303,207,868], [480,310,476,466], [752,332,743,488], [1022,355,1010,512], [1292,378,1281,535],
  [207,870,207,948], [347,875,347,950], [487,880,483,955], [622,890,620,965], [762,903,757,985],
  [140,950,140,1028], [275,952,275,1030], [415,958,413,1033], [552,968,550,1045], [690,980,685,1055],
  [207,1030,207,1110], [345,1035,345,1112], [483,1042,480,1118], [620,1052,615,1130], [755,1068,752,1140],
  [140,1112,140,1190], [275,1115,275,1192], [413,1120,411,1197], [550,1130,546,1205], [683,1140,678,1220],
  [207,1192,207,1510], [345,1197,342,1510], [482,1205,477,1280], [618,1218,613,1295], [140,1272,140,1510], [273,1272,273,1510]
];
var eDetailColumns = [
  [1105,1187,[1000,1132,1267,1400]], [1187,1267,[925,1060,1197,1335,1470]], [1267,1348,[860,995,1132,1267,1400]],
  [1348,1432,[792,927,1062,1200,1335,1470]], [1432,1510,[720,857,992,1128,1265,1398]]
];
var eDetailBlue = [594,1298,594,1506];

// ---- red call outs, page coordinates
var calloutBoxes = [
  [30,66,772,66,772,615,30,615,30,66], [772,66,915,291], [772,615,915,583], [915,291,1262,291,1262,583,915,583,915,291],
  [1902,64,2650,64,2650,618,1902,618,1902,64], [2650,64,2782,288], [2650,618,2782,581], [2782,288,3139,288,3139,581,2782,581,2782,288],
  [30,1004,780,1004,780,1581,30,1581,30,1004], [780,1004,915,1232], [780,1581,912,1525], [909,1232,1262,1232,1262,1525,909,1525,909,1232]
];
var letterAnchors = [[904,819], [2781,819], [913,1752]];

var grids = [], xAxes = [], yAxes = [], series = [];

function addFrame(rect, xr, yr) {
    var i = grids.length;
    grids.push({ left: rect[0], top: rect[1], width: rect[2] - rect[0], height: rect[3] - rect[1], containLabel: false, show: false });
    xAxes.push({ type: 'value', gridIndex: i, min: xr[0], max: xr[1], show: false, scale: true });
    yAxes.push({ type: 'value', gridIndex: i, min: yr[0], max: yr[1], show: false, inverse: true, scale: true });
    return i;
}

function toPoints(api, flat, from) {
    var pts = [];
    for (var k = from; k < flat.length; k += 2) {
        pts.push(api.coord([flat[k], flat[k + 1]]));
    }
    return pts;
}

function shapeSeries(frame, list, z, stroke, lw) {
    series.push({
        type: 'custom', xAxisIndex: frame, yAxisIndex: frame, z: z, silent: true, clip: true,
        data: list.map(function (d, i) { return [i, 0]; }),
        renderItem: function (params, api) {
            var s = list[params.dataIndex];
            return {
                type: 'polygon', shape: { points: toPoints(api, s, 1) },
                style: { fill: fieldColors[s[0]], stroke: stroke || null, lineWidth: lw || 0 }
            };
        }
    });
}

function lineSeries(frame, list, z, color, lw, dash) {
    series.push({
        type: 'custom', xAxisIndex: frame, yAxisIndex: frame, z: z, silent: true, clip: !dash,
        data: list.map(function (d, i) { return [i, 0]; }),
        renderItem: function (params, api) {
            return {
                type: 'polyline', shape: { points: toPoints(api, list[params.dataIndex], 0) },
                style: { fill: null, stroke: color, lineWidth: lw, lineCap: dash ? 'round' : 'butt', lineJoin: 'round', lineDash: dash || null }
            };
        }
    });
}

function yOnCourse(line, x) {
    for (var k = 0; k < line.length - 2; k += 2) {
        if (x <= line[k + 2]) {
            return line[k + 1] + (line[k + 3] - line[k + 1]) * (x - line[k]) / (line[k + 2] - line[k]);
        }
    }
    return line[line.length - 1];
}

// joints of the model as polylines, right rows cut where the crack starts
function masonry(rowStart) {
    var out = fullLines.slice();
    fullBands.forEach(function (b) {
        b[2].forEach(function (x) {
            var lean = x > 500 ? b[3] : 0;
            out.push([x + lean, yOnCourse(b[0], x + lean), x - lean, yOnCourse(b[1], x - lean)]);
        });
    });
    rightRows.forEach(function (r, i) {
        out.push([rowStart[i], r[0], 1538, r[0]]);
        r[2].forEach(function (x) {
            if (x >= rowStart[i]) { out.push([x, r[0], x, r[1]]); }
        });
    });
    return out;
}

function columns(list) {
    var out = [];
    list.forEach(function (c) {
        c[2].forEach(function (x) { out.push([x, c[0], x, c[1]]); });
    });
    return out;
}

function fullView(rect, frameX, frameY, shapes, pieces, blue, rowStart) {
    var model = addFrame(rect, [87, 1538], [65, 1448]);
    var own = addFrame(rect, frameX, frameY);
    shapeSeries(own, [['A', frameX[0], frameY[0], frameX[1], frameY[0], frameX[1], frameY[1], frameX[0], frameY[1]]], 1);
    shapeSeries(own, shapes, 2);
    lineSeries(model, masonry(rowStart), 3, '#6fa5a5', 1.6);
    shapeSeries(own, pieces, 4, '#6fa5a5', 1.5);
    lineSeries(own, [blue], 5, '#0000ff', 4);
}

function detailView(rect, frameX, frameY, shapes, pieces, lines, cols, blue) {
    var own = addFrame(rect, frameX, frameY);
    shapeSeries(own, [['A', frameX[0], frameY[0], frameX[1], frameY[0], frameX[1], frameY[1], frameX[0], frameY[1]]], 1);
    shapeSeries(own, shapes, 2);
    lineSeries(own, lines.concat(columns(cols)), 3, '#7f9a9a', 3);
    shapeSeries(own, pieces, 4, '#7f9a9a', 2);
    lineSeries(own, [blue], 5, '#0000ff', 9);
}

detailView([30,66,772,615], [52,1345], [147,1377], cDetailShapes, cDetailPieces, cDetailLines, cDetailColumns, cDetailBlue);
detailView([1902,64,2650,618], [108,1410], [147,1490], dDetailShapes, dDetailPieces, dDetailLines, dDetailColumns, dDetailBlue);
detailView([30,1004,780,1581], [60,1530], [130,1523], eDetailShapes, eDetailPieces, eDetailLines, eDetailColumns, eDetailBlue);
fullView([808,29,1778,646], [87,1538], [65,1448], cFullShapes, cFullPieces, cFullBlue, cRowStart);
fullView([2676,29,3648,646], [63,1756], [70,1559], dFullShapes, dFullPieces, dFullBlue, dRowStart);
fullView([808,969,1778,1586], [55,1580], [93,1583], eFullShapes, eFullPieces, eFullBlue, eRowStart);

// page frame, used by the red call outs and the panel letters
var pageFrame = addFrame([0,0,3683,1815], [0,3683], [0,1815]);
lineSeries(pageFrame, calloutBoxes, 8, '#ff0000', 7, [40, 21]);
series.push({
    type: 'custom', xAxisIndex: pageFrame, yAxisIndex: pageFrame, z: 9, silent: true, clip: false,
    data: panelLetters.map(function (d, i) { return [letterAnchors[i][0], letterAnchors[i][1]]; }),
    renderItem: function (params, api) {
        var p = api.coord([api.value(0), api.value(1)]);
        return {
            type: 'text', x: p[0], y: p[1],
            style: {
                text: '{n|(}{b|' + panelLetters[params.dataIndex] + '}{n|)}', align: 'center', verticalAlign: 'middle',
                rich: {
                    n: { font: '88px "Liberation Serif"', fill: '#000' },
                    b: { font: 'bold 88px "Liberation Serif"', fill: '#000' }
                }
            }
        };
    }
});

// colour key
var keyFrame = addFrame([2596,1120,2758,1730], [0,1], [0,10]);
series.push({
    type: 'custom', xAxisIndex: keyFrame, yAxisIndex: keyFrame, z: 6, silent: true, clip: false,
    data: legendColors.map(function (d, i) { return [i, 0]; }),
    renderItem: function (params, api) {
        var i = params.dataIndex, a = api.coord([0, i]), b = api.coord([1, i + 1]);
        return {
            type: 'rect', shape: { x: a[0], y: a[1], width: b[0] - a[0], height: b[1] - a[1] },
            style: { fill: legendColors[i], stroke: '#000', lineWidth: 5 }
        };
    }
});
series.push({
    type: 'custom', xAxisIndex: keyFrame, yAxisIndex: keyFrame, z: 6, silent: true, clip: false,
    data: legendTicks.map(function (d, i) { return [i, 0]; }),
    renderItem: function (params, api) {
        var i = params.dataIndex, p = api.coord([1.77, i + 1]);
        return {
            type: 'text', x: p[0], y: p[1] + 1, scaleX: 1.22,
            style: { text: legendTicks[i], font: '56px "Liberation Serif"', fill: '#000', align: 'center', verticalAlign: 'middle' }
        };
    }
});
series.push({
    type: 'custom', xAxisIndex: keyFrame, yAxisIndex: keyFrame, z: 6, silent: true, clip: false,
    data: [[0, 0]],
    renderItem: function (params, api) {
        var p = api.coord([1.11, -0.8]);
        return {
            type: 'text', x: p[0], y: p[1], scaleX: 1.25,
            style: { text: legendTitle, font: '56px "Liberation Serif"', fill: '#000', align: 'center', verticalAlign: 'middle' }
        };
    }
});

var chart = echarts.init(document.getElementById('chart'));
chart.setOption({
    animation: false,
    backgroundColor: '#fff',
    grid: grids,
    xAxis: xAxes,
    yAxis: yAxes,
    series: series
});
</script>
</body>
</html>
